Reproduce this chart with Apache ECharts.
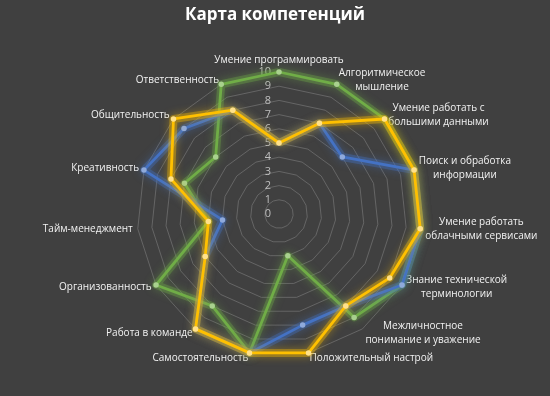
<!DOCTYPE html>
<html lang="ru">
<head>
    <meta charset="UTF-8">
    <title>Карта компетенций</title>
    <script src="https://cdn.jsdelivr.net/npm/echarts@6/dist/echarts.min.js"></script>
    <style>
        html, body, #chart {
            width: 550px;
            height: 396px;
            padding: 0;
            margin: 0;
            background: #404040;
        }
    </style>
</head>
<body>
<div id="chart"></div>
<script>
    // competences, clockwise from the top
    var skills = [
        "Умение программировать",
        "Алгоритмическое\nмышление",
        "Умение работать с\nбольшими данными",
        "Поиск и обработка\nинформации",
        "Умение работать\nоблачными сервисами",
        "Знание технической\nтерминологии",
        "Межличностное\nпонимание и уважение",
        "Положительный настрой",
        "Самостоятельность",
        "Работа в команде",
        "Организованность",
        "Тайм-менеджмент",
        "Креативность",
        "Общительность",
        "Ответственность"
    ];
    var blueValues   = [5, 7, 6, 10, 10, 10, 8, 8, 10, 10, 6, 4, 10, 9, 8];
    var greenValues  = [10, 10, 10, 10, 10, 10, 9, 3, 10, 8, 10, 5, 7, 6, 10];
    var yellowValues = [5, 7, 10, 10, 10, 9, 8, 10, 10, 10, 6, 5, 8, 10, 8];
    var maxValue = 10;

    // echarts lays indicators out counter-clockwise, the picture goes clockwise
    var order = skills.map(function (s, i) { return i === 0 ? 0 : skills.length - i; });
    function reorder(arr) {
        return order.map(function (i) { return arr[i]; });
    }

    var indicators = reorder(skills).map(function (name, i) {
        var ind = {name: name, min: 0, max: maxValue};
        if (i === 0) {
            ind.axisLabel = {show: true};
        }
        return ind;
    });

    // soft halo under each line (the "glow" effect of the original)
    function makeGlow(values, color, z) {
        return {
            type: "radar",
            silent: true,
            symbol: "none",
            lineStyle: {
                color: color,
                width: 8,
                opacity: 0.35,
                shadowColor: color,
                shadowBlur: 8
            },
            data: [{value: reorder(values)}],
            z: z
        };
    }

    function makeSeries(name, values, color, dotColor, z) {
        return {
            type: "radar",
            name: name,
            symbol: "circle",
            symbolSize: 5.5,
            itemStyle: {color: dotColor},
            lineStyle: {
                color: color,
                width: 2.8
            },
            data: [{value: reorder(values), name: name}],
            z: z
        };
    }

    var myChart = echarts.init(document.getElementById("chart"));
    myChart.setOption({
        backgroundColor: "#404040",
        animation: false,
        title: {
            text: "Карта компетенций",
            left: "center",
            top: 2,
            textStyle: {
                color: "#ffffff",
                fontFamily: "Open Sans",
                fontWeight: "bold",
                fontSize: 17
            }
        },
        radar: {
            center: [279, 214],
            radius: 142,
            startAngle: 90,
            splitNumber: 10,
            shape: "polygon",
            nameGap: 5,
            axisName: {
                color: "#f2f2f2",
                fontFamily: "Open Sans",
                fontSize: 10,
                formatter: function (name) {
                    return name.split("\n").map(function (l) {
                        return "{c|" + l + "}";
                    }).join("\n");
                },
                rich: {
                    c: {
                        align: "center",
                        color: "#f2f2f2",
                        fontFamily: "Open Sans",
                        fontSize: 10,
                        lineHeight: 14
                    }
                }
            },
            axisLine: {show: false},
            axisTick: {show: false},
            axisLabel: {
                show: false,
                color: "#bfbfbf",
                fontFamily: "Open Sans",
                fontSize: 11,
                margin: 8
            },
            splitLine: {
                lineStyle: {color: "#6e6e6e", width: 0.8}
            },
            splitArea: {show: false},
            indicator: indicators
        },
        series: [
            makeGlow(greenValues, "#70ad47", 2),
            makeSeries("green", greenValues, "#70ad47", "#a9d18e", 3),
            makeGlow(blueValues, "#4472c4", 4),
            makeSeries("blue", blueValues, "#4472c4", "#8faadc", 5),
            makeGlow(yellowValues, "#ffc000", 6),
            makeSeries("yellow", yellowValues, "#ffc000", "#ffe18a", 7)
        ]
    });
</script>
</body>
</html>
